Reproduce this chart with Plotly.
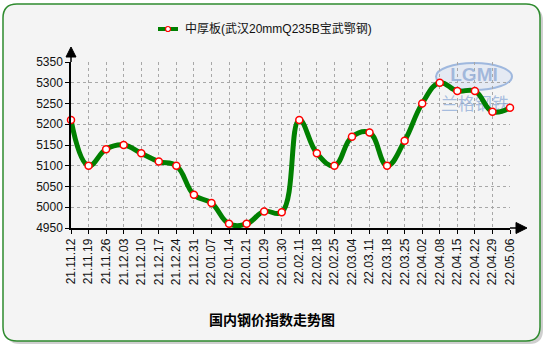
import plotly.graph_objects as go

dates = ["21.11.12", "21.11.19", "21.11.26", "21.12.03", "21.12.10", "21.12.17",
         "21.12.24", "21.12.31", "22.01.07", "22.01.14", "22.01.21", "22.01.29",
         "22.01.30", "22.02.11", "22.02.18", "22.02.25", "22.03.04", "22.03.11",
         "22.03.18", "22.03.25", "22.04.02", "22.04.08", "22.04.15", "22.04.22",
         "22.04.29", "22.05.06"]
prices = [5210, 5100, 5140, 5150, 5130, 5110,
          5100, 5030, 5010, 4960, 4960, 4990,
          4988, 5210, 5130, 5100, 5170, 5180,
          5100, 5160, 5250, 5300, 5280, 5280,
          5230, 5240]
y_ticks = [4950, 5000, 5050, 5100, 5150, 5200, 5250, 5300, 5350]
series_name = "中厚板(武汉20mmQ235B宝武鄂钢)"
chart_title = "国内钢价指数走势图"
watermark_logo = "LGMI"
watermark_cn = "兰格钢铁"

W, H = 550, 350
L, Rpx, T, Bpx = 71, 510, 62, 228


def px(x):
    return (x - L) / (Rpx - L)


def py(y):
    return (Bpx - y) / (Bpx - T)


def rrect(x0, y0, x1, y1, r):
    a0, a1 = px(x0), px(x1)
    b0, b1 = py(y0), py(y1)
    rx = r / (Rpx - L)
    ry = r / (Bpx - T)
    return (f"M{a0+rx},{b0} L{a1-rx},{b0} Q{a1},{b0} {a1},{b0-ry} "
            f"L{a1},{b1+ry} Q{a1},{b1} {a1-rx},{b1} L{a0+rx},{b1} "
            f"Q{a0},{b1} {a0},{b1+ry} L{a0},{b0-ry} Q{a0},{b0} {a0+rx},{b0} Z")


fig = go.Figure()
# watermark (drawn first so the data line goes over it)
fig.add_trace(go.Scatter(
    x=[22.95], y=[5315], mode="text", text=["<b>" + watermark_logo + "</b>"],
    textfont=dict(size=19, color="rgba(150,175,215,0.85)", family="Liberation Sans"),
    showlegend=False, hoverinfo="skip", cliponaxis=False,
))
fig.add_trace(go.Scatter(
    x=[23.0], y=[5244], mode="text", text=[watermark_cn],
    textfont=dict(size=17, color="rgba(140,170,215,0.75)", family="Noto Sans CJK SC"),
    showlegend=False, hoverinfo="skip", cliponaxis=False,
))
fig.add_trace(go.Scatter(
    x=list(range(len(dates))), y=prices, mode="lines+markers",
    line=dict(color="#008000", width=5, shape="spline", smoothing=1.2),
    marker=dict(size=7, color="white", line=dict(color="#ff0000", width=1.5)),
    name=series_name, showlegend=False, cliponaxis=False,
))

shapes = [
    # shadow
    dict(type="path", xref="paper", yref="paper", path=rrect(6, 7, 543, 344, 14),
         fillcolor="#cfcfcf", line=dict(width=0), layer="below"),
    # background panel
    dict(type="path", xref="paper", yref="paper", path=rrect(3, 4, 540, 341, 14),
         fillcolor="#f4f4f4", line=dict(color="#2e8b2e", width=1.5), layer="below"),
    # watermark ellipse
    dict(type="circle", xref="paper", yref="paper",
         x0=px(436), x1=px(512), y0=py(63), y1=py(90),
         line=dict(color="#9fb8de", width=2), fillcolor="rgba(200,215,240,0.35)",
         layer="below"),
    # x axis extension + arrow
    dict(type="line", xref="paper", yref="paper", x0=1, x1=px(517), y0=0, y1=0,
         line=dict(color="black", width=1.5)),
    dict(type="path", xref="paper", yref="paper",
         path=f"M{px(516)},{py(222.5)} L{px(527)},{py(228)} L{px(516)},{py(233.5)} Z",
         fillcolor="black", line=dict(color="black", width=1)),
    # y axis arrow
    dict(type="line", xref="paper", yref="paper", x0=0, x1=0, y0=1, y1=py(56),
         line=dict(color="black", width=1.5)),
    dict(type="path", xref="paper", yref="paper",
         path=f"M{px(66)},{py(57)} L{px(71)},{py(47)} L{px(76)},{py(57)} Z",
         fillcolor="black", line=dict(color="black", width=1)),
    # legend symbol
    dict(type="line", xref="paper", yref="paper", x0=px(158), x1=px(178),
         y0=py(29), y1=py(29), line=dict(color="#008000", width=4)),
    dict(type="circle", xref="paper", yref="paper", x0=px(165.5), x1=px(170.5),
         y0=py(26.5), y1=py(31.5), fillcolor="white",
         line=dict(color="#ff0000", width=1.2)),
]

annotations = [
    dict(text=series_name, xref="paper", yref="paper", x=px(183), y=py(29),
         xanchor="left", yanchor="middle", showarrow=False,
         font=dict(size=12, color="#111111", family="Liberation Sans, Noto Sans CJK SC")),
    dict(text="<b>" + chart_title + "</b>", xref="paper", yref="paper", x=px(272), y=py(319),
         xanchor="center", yanchor="middle", showarrow=False,
         font=dict(size=14, color="black", family="Noto Sans CJK SC")),
]

fig.update_layout(
    width=W, height=H,
    margin=dict(l=L, r=W - Rpx, t=T, b=H - Bpx, pad=0),
    paper_bgcolor="white", plot_bgcolor="rgba(0,0,0,0)",
    shapes=shapes, annotations=annotations, showlegend=False,
    font=dict(family="Liberation Sans, Arial", color="black"),
)
fig.update_xaxes(
    range=[0, len(dates) - 1], tickmode="array",
    tickvals=list(range(len(dates))), ticktext=dates, tickangle=-90,
    tickfont=dict(size=12, color="#111111"),
    showgrid=True, gridcolor="#a8a8a8", griddash="dot", gridwidth=1,
    showline=True, linecolor="black", linewidth=1.5,
    ticks="outside", ticklen=4, tickcolor="black", zeroline=False,
)
fig.update_yaxes(
    range=[4950, 5350], tickmode="array", tickvals=y_ticks,
    tickfont=dict(size=12, color="#111111"),
    showgrid=True, gridcolor="#a8a8a8", griddash="dot", gridwidth=1,
    showline=True, linecolor="black", linewidth=1.5,
    ticks="outside", ticklen=4, tickcolor="black", zeroline=False,
)

fig.write_html("out.html")
